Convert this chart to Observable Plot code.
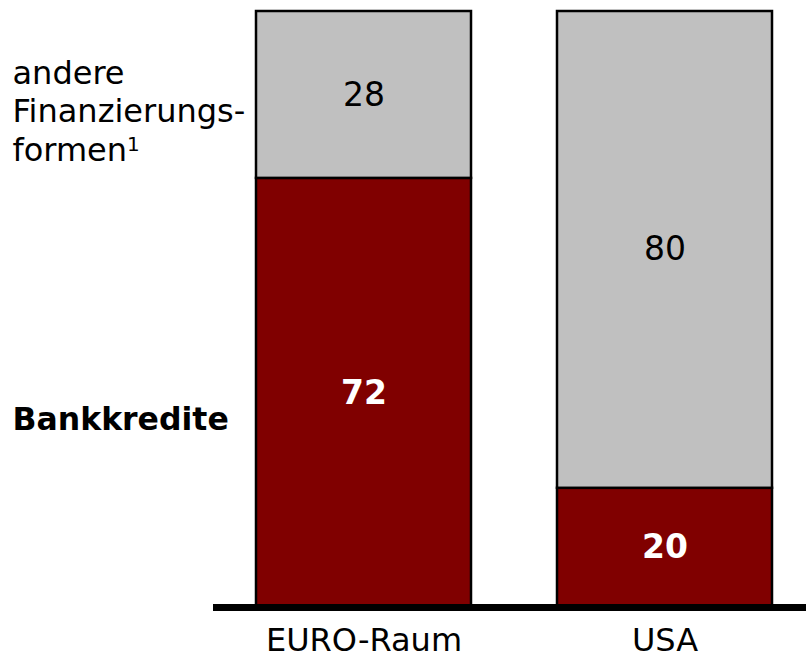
<!DOCTYPE html>
<html>
<head>
<meta charset="utf-8">
<script src="https://cdn.jsdelivr.net/npm/d3@7"></script>
<script src="https://cdn.jsdelivr.net/npm/@observablehq/plot@0.6"></script>
<style>
  html, body { margin: 0; padding: 0; background: #fff; }
  #chart svg { display: block; }
</style>
</head>
<body>
<div id="chart"></div>
<script>
// Data
const regions = ["EURO-Raum", "USA"];
const bankkredite = [72, 20];          // Bankkredite (%)
const andereFormen = [28, 80];         // andere Finanzierungsformen (%)
const seriesNames = ["Bankkredite", "andere Finanzierungsformen"];
const seriesColors = ["#800000", "#c0c0c0"];
const seriesLegend = ["Bankkredite", "andere\nFinanzierungs-\nformen"];

// Build stacked table
const rows = [];
regions.forEach((r, i) => {
  const vals = [bankkredite[i], andereFormen[i]];
  let base = 0;
  vals.forEach((v, j) => {
    rows.push({region: r, series: seriesNames[j], value: v, y1: base, y2: base + v, mid: base + v / 2});
    base += v;
  });
});

const font = "'DejaVu Sans', Verdana, sans-serif";

const chart = Plot.plot({
  width: 806,
  height: 659,
  marginTop: 11,
  marginBottom: 52,
  marginLeft: 256,
  marginRight: 34,
  style: {fontFamily: font, fontSize: "32px", background: "#fff", color: "#000"},
  x: {domain: regions, paddingInner: 0.286, paddingOuter: 0, label: null},
  y: {domain: [0, 100], axis: null},
  color: {domain: seriesNames, range: seriesColors},
  marks: [
    Plot.axisX({tickSize: 0, tickPadding: 21, fontSize: 32, label: null}),
    Plot.rectY(rows, {x: "region", y1: "y1", y2: "y2", fill: "series", stroke: "black", strokeWidth: 2.5}),
    Plot.text(rows.filter(d => d.series === "Bankkredite"), {
      x: "region", y: "mid", text: d => String(d.value), fill: "white", fontWeight: "bold", fontSize: 33
    }),
    Plot.text(rows.filter(d => d.series !== "Bankkredite"), {
      x: "region", y: "mid", text: d => String(d.value), fill: "black", fontSize: 33
    }),
    Plot.ruleY([0], {stroke: "black", strokeWidth: 7, insetLeft: -43, insetRight: -34}),
    // left-hand series labels
    Plot.text([seriesLegend[0]], {
      frameAnchor: "left", y: [31.5], text: d => d, dx: -244, textAnchor: "start",
      fontWeight: "bold", fontSize: 31.5, fill: "black"
    }),
    Plot.text([seriesLegend[1]], {
      frameAnchor: "left", y: [83.5], text: d => d, dx: -244, textAnchor: "start",
      fontSize: 32, lineHeight: 1.21, fill: "black", className: "other-label"
    })
  ]
});

// superscript footnote marker "1" after "formen"
d3.select(chart).selectAll("g.other-label tspan")
  .filter(function() { return this.textContent === "formen"; })
  .append("tspan")
  .attr("dy", "-0.5em")
  .attr("font-size", "20px")
  .text("1");

document.getElementById("chart").appendChild(chart);
</script>
</body>
</html>
